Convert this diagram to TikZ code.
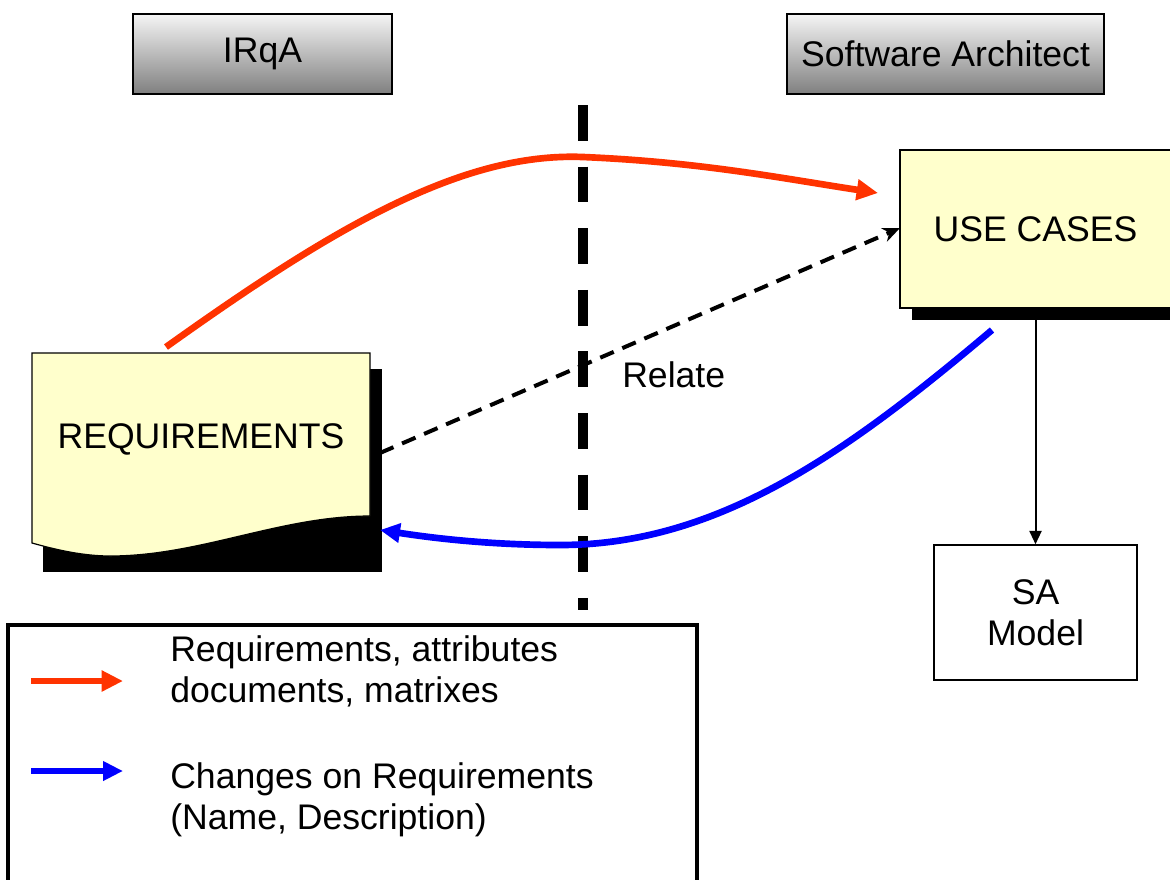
\documentclass[tikz,border=0pt]{standalone}
\usepackage{fontspec}
\setmainfont{Liberation Sans}
\usetikzlibrary{arrows.meta,shadows}
\definecolor{paper}{HTML}{FFFFCC}
\definecolor{redarr}{HTML}{FF3300}
\definecolor{bluearr}{HTML}{0000FF}
\begin{document}
\begin{tikzpicture}[x=0.75pt,y=-0.75pt,
  lbl/.style={font=\fontsize{26.7}{30.75}\selectfont, inner sep=0pt},
  header/.style={lbl, draw=black, line width=2.2pt, top color=black!4, bottom color=black!50,
                 minimum height=60pt},
  paperbox/.style={lbl, draw=black, line width=0.9pt, fill=paper},
  redline/.style={draw=redarr, line width=5pt, -{Triangle[length=16pt,width=15pt]}},
  blueline/.style={draw=bluearr, line width=5pt, -{Triangle[length=15pt,width=14pt]}},
  relline/.style={draw=black, line width=3pt, dash pattern=on 11pt off 7pt, -{Stealth[length=13pt,width=11pt]}},
  divider/.style={draw=black, line width=7.5pt, dash pattern=on 26.8pt off 19.4pt},
  thinarrow/.style={draw=black, line width=1.5pt, -{Triangle[length=10pt,width=9pt]}}
]
\useasboundingbox (0,0) rectangle (1170,879);
\clip (0,0) rectangle (1170,879);

% headers
\node[header, minimum width=194.25pt] (irqa) at (262.5,54) {\raisebox{-1.5pt}{IRqA}};
\node[header, minimum width=237.75pt] (sarch) at (945.5,54) {\raisebox{-1.5pt}{Software Architect}};

% divider
\coordinate (dtop) at (583,105);
\coordinate (dbot) at (583,610);
\draw[divider] (dtop) -- (dbot);

% requirements document
\fill[black] (43,369) rectangle (382,572);
\draw[fill=paper, line width=0.9pt] (32,353) -- (370,353) -- (370,516)
   .. controls (280,516) and (200,556) .. (110,556) .. controls (80,556) and (50,548) .. (32,543) -- cycle;
\node[lbl] (req) at (201,439) {REQUIREMENTS};

% use cases
\node[paperbox, minimum width=206.25pt, minimum height=118.5pt,
      general shadow={fill=black, shadow xshift=9pt, shadow yshift=-9pt}]
      (uc) at (1037.5,229) {\hspace*{-3pt}\raisebox{-1.5pt}{USE CASES}};

% SA model
\node[lbl, draw=black, line width=1.1pt, fill=white, align=center,
      minimum width=152.25pt, minimum height=101.25pt] (sa) at (1035.5,612.5) {SA\\Model};

\draw[thinarrow] (sa.north |- uc.south) -- (sa.north);

% connectors
\coordinate (rs) at (166,347);
\coordinate (re) at (878,193);
\draw[redline] (rs) .. controls (330,230) and (460,152) .. (583,157)
   .. controls (700,162) and (780,178) .. (re);

\coordinate (ds) at (380,453);
\coordinate (de) at (900,228);
\draw[relline] (ds) -- (de);
\node[lbl, anchor=west] (relate) at (622,375) {Relate};

\coordinate (bs) at (992,330);
\coordinate (be) at (380,530);
\draw[blueline] (bs) .. controls (850,450) and (720,545) .. (560,545)
   .. controls (480,545) and (420,536) .. (be);

% legend
\draw[line width=2.4pt] (8,625) rectangle (697,910);
\coordinate (l1a) at (31,681);
\coordinate (l1b) at (123,681);
\coordinate (l2a) at (31,771);
\coordinate (l2b) at (123,771);
\draw[redline] (l1a) -- (l1b);
\draw[blueline] (l2a) -- (l2b);
\node[lbl, anchor=west, align=left] (lt1) at (170,671) {Requirements, attributes\\documents, matrixes};
\node[lbl, anchor=west, align=left] (lt2) at (170,800) {Changes on Requirements\\(Name, Description)};
\end{tikzpicture}
\end{document}
